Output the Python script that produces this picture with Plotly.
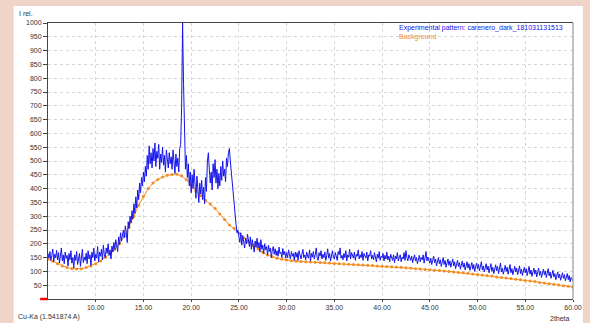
import plotly.graph_objects as go

# ---- data ----
START_2THETA = 5.0
STEP_EXP = 0.1
STEP_BG = 0.5

experimental = [
    165,148,172,140,158,181,135,162,150,176,   # 5
    142,168,130,155,185,138,160,128,170,147,   # 6
    158,120,165,142,175,130,150,112,160,140,   # 7
    172,125,148,165,118,158,180,132,152,140,   # 8
    166,128,175,145,160,122,170,150,185,138,   # 9
    162,148,190,135,170,155,180,142,195,160,   # 10
    150,185,165,200,158,178,145,192,170,205,   # 11
    180,215,190,172,225,198,240,210,232,250,   # 12
    222,265,240,205,280,255,300,275,320,290,   # 13
    345,310,370,330,395,360,420,385,440,410,   # 14
    460,425,480,445,520,470,555,490,530,475,   # 15
    545,500,565,480,535,510,560,470,525,495,   # 16
    550,485,520,460,540,505,475,530,490,515,   # 17
    470,540,495,455,525,480,510,460,545,560,   # 18
    700,1000,780,540,470,520,440,490,410,460,  # 19
    385,450,400,470,420,365,445,395,350,420,   # 20
    380,430,360,405,345,440,390,500,530,470,   # 21
    420,460,395,490,440,505,420,470,400,455,   # 22
    410,480,430,500,445,470,425,510,480,530,   # 23
    545,500,460,420,360,320,285,270,240,250,   # 24
    225,205,240,195,230,210,185,220,200,235,   # 25
    205,190,225,180,215,195,170,210,188,220,   # 26
    185,205,170,215,180,195,165,200,178,190,   # 27
    160,195,172,185,150,178,190,162,182,158,   # 28
    175,155,188,165,170,150,183,160,172,148,   # 29
    168,150,178,160,145,172,155,165,140,170,   # 30
    152,168,140,175,158,145,162,180,150,160,   # 31
    142,170,155,148,178,138,165,152,172,145,   # 32
    160,185,150,140,168,155,175,145,162,150,   # 33
    170,140,158,182,148,165,138,160,175,150,   # 34
    145,168,155,140,172,160,185,148,158,142,   # 35
    165,150,175,138,160,152,180,145,168,155,   # 36
    148,170,140,162,155,178,145,160,150,172,   # 37
    140,165,152,148,170,138,160,155,175,145,   # 38
    158,142,168,150,135,162,148,172,140,155,   # 39
    150,165,138,158,145,170,142,155,135,162,   # 40
    148,140,160,132,155,145,168,138,150,160,   # 41
    135,152,145,168,140,175,150,138,160,145,   # 42
    140,155,132,148,160,138,150,128,145,158,   # 43
    135,150,142,160,130,148,172,138,152,140,   # 44
    130,148,125,140,155,132,145,120,138,150,   # 45
    128,142,118,135,150,125,140,115,132,145,   # 46
    122,138,115,130,145,120,135,110,128,140,   # 47
    118,132,108,125,138,115,130,105,122,135,   # 48
    112,128,104,120,132,108,125,100,118,130,   # 49
    110,125,102,118,135,105,120,98,115,128,    # 50
    105,120,95,112,128,100,115,92,110,124,     # 51
    102,118,92,110,130,98,112,90,108,122,      # 52
    100,115,90,108,125,95,110,88,105,118,      # 53
    98,112,88,105,120,92,108,85,102,115,       # 54
    95,110,85,102,118,90,105,82,100,112,       # 55
    90,105,80,98,112,86,100,78,95,108,         # 56
    88,102,78,95,110,84,98,75,92,104,          # 57
    80,92,70,88,98,76,90,68,84,95,             # 58
    75,88,66,82,92,70,85,62,78,72,             # 59
    65,                                        # 60
]

background = [
    145,137,128,120,114,110,109,110,114,120,    # 5.0 - 9.5
    128,138,150,164,180,200,228,262,300,340,    # 10.0 - 14.5
    372,400,420,433,442,448,451,452,446,432,    # 15.0 - 19.5
    412,392,374,358,344,328,308,288,268,255,    # 20.0 - 24.5
    238,222,208,194,181,169,159,153,148,144,    # 25.0 - 29.5
    141,139,137,136,135,134,133,132,131,130,    # 30.0 - 34.5
    129,128,127,126,125,124,123,122,121,120,    # 35.0 - 39.5
    119,118,117,116,115,113,112,110,109,107,    # 40.0 - 44.5
    106,104,103,101,100,98,96,95,93,91,         # 45.0 - 49.5
    89,87,85,83,80,78,76,74,72,70,              # 50.0 - 54.5
    67,65,63,60,58,55,53,51,48,46,              # 55.0 - 59.5
    43,                                         # 60.0
]

x_tick_values = [10, 15, 20, 25, 30, 35, 40, 45, 50, 55, 60]
y_tick_values = list(range(50, 1001, 50))

exp_x = [round(START_2THETA + STEP_EXP * i, 2) for i in range(len(experimental))]
bg_x = [round(START_2THETA + STEP_BG * i, 2) for i in range(len(background))]

BLUE = "rgb(20,20,235)"
ORANGE = "rgb(245,140,30)"
FONT = "Liberation Sans, Arial, sans-serif"

fig = go.Figure()
fig.add_trace(go.Scatter(x=bg_x, y=background, mode="lines+markers",
                         line=dict(color=ORANGE, width=1),
                         marker=dict(color=ORANGE, size=3),
                         showlegend=False, hoverinfo="skip"))
fig.add_trace(go.Scatter(x=exp_x, y=experimental, mode="lines",
                         line=dict(color=BLUE, width=1),
                         showlegend=False))

W, H = 590, 323
L, R, T, B = 48, 8, 23, 24
pw, ph = W - L - R, H - T - B

def px(xp):
    return (xp - L) / pw

def py(yp):
    return (H - B - yp) / ph

fig.update_layout(
    width=W, height=H,
    margin=dict(l=L, r=R, t=T, b=B, pad=0),
    paper_bgcolor="#efd4c7",
    plot_bgcolor="white",
    font=dict(family=FONT, size=7, color="#333"),
    xaxis=dict(range=[5, 60], tickvals=x_tick_values,
               ticktext=[f"{v:.2f}" for v in x_tick_values],
               ticklabeloverflow="allow",
               showgrid=True, gridcolor="#d6d6d6", griddash="dot", gridwidth=1,
               showline=True, linecolor="#444", linewidth=1, mirror=True,
               ticks="outside", ticklen=2, tickcolor="#444",
               zeroline=False, tickfont=dict(size=7, color="#333")),
    yaxis=dict(range=[0, 1000], tickvals=y_tick_values,
               showgrid=True, gridcolor="#d6d6d6", griddash="dot", gridwidth=1,
               showline=True, linecolor="#444", linewidth=1,
               ticks="outside", ticklen=4, tickcolor="#444",
               zeroline=False, tickfont=dict(size=7, color="#333")),
    shapes=[
        dict(type="rect", xref="paper", yref="paper", layer="below",
             x0=px(13), x1=px(W + 2), y0=py(H + 2), y1=py(6),
             fillcolor="white", line=dict(width=0)),
        dict(type="line", xref="paper", yref="paper",
             x0=1, x1=1, y0=0, y1=1, line=dict(color="#999", width=1.2)),
        dict(type="line", xref="paper", yref="paper",
             x0=px(40), x1=px(48), y0=0, y1=0, line=dict(color="red", width=2.5)),
    ],
    annotations=[
        dict(text="I rel.", xref="paper", yref="paper", x=px(16), y=py(13),
             xanchor="left", yanchor="middle", showarrow=False,
             font=dict(size=7, color="#333")),
        dict(text="Cu-Ka (1.541874 A)", xref="paper", yref="paper", x=px(15), y=py(317),
             xanchor="left", yanchor="middle", showarrow=False,
             font=dict(size=7, color="#333")),
        dict(text="2theta", xref="paper", yref="paper", x=px(581), y=py(318),
             xanchor="right", yanchor="middle", showarrow=False,
             font=dict(size=7, color="#333")),
        dict(text="Experimental pattern: carenero_dark_181031131513", xref="paper", yref="paper",
             x=px(403), y=py(28), xanchor="left", yanchor="middle", showarrow=False,
             font=dict(size=7, color=BLUE)),
        dict(text="Background", xref="paper", yref="paper",
             x=px(403), y=py(37), xanchor="left", yanchor="middle", showarrow=False,
             font=dict(size=7, color=ORANGE)),
    ],
)

fig.write_html("out.html",
               config={"displayModeBar": False},
               post_script="document.body.style.margin='0';document.body.style.overflow='hidden';")
